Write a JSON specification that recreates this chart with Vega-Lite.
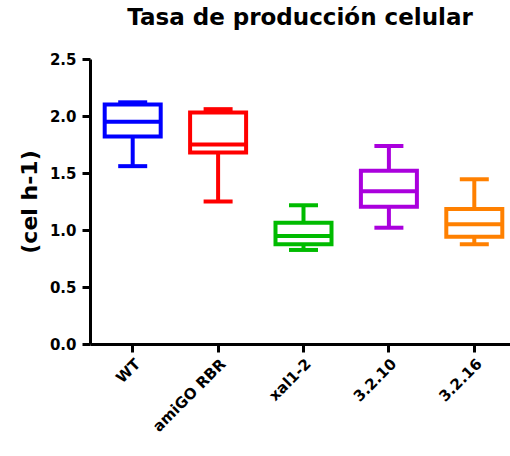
{
  "$schema": "https://vega.github.io/schema/vega-lite/v6.json",
  "autosize": {"type": "none"},
  "padding": {"left": 90, "top": 59, "right": 0, "bottom": 112},
  "width": 420,
  "height": 285,
  "background": "white",
  "view": {"stroke": null},
  "title": {
    "text": "Tasa de producción celular",
    "font": "DejaVu Sans",
    "fontSize": 23,
    "fontWeight": "bold",
    "color": "black",
    "anchor": "middle",
    "frame": "group",
    "offset": 22
  },
  "data": {
    "values": [
      {"group": "WT", "min": 1.56, "q1": 1.82, "median": 1.95, "q3": 2.1, "max": 2.12},
      {"group": "amiGO RBR", "min": 1.25, "q1": 1.68, "median": 1.75, "q3": 2.03, "max": 2.06},
      {"group": "xal1-2", "min": 0.825, "q1": 0.875, "median": 0.947, "q3": 1.064, "max": 1.217},
      {"group": "3.2.10", "min": 1.02, "q1": 1.204, "median": 1.34, "q3": 1.52, "max": 1.737},
      {"group": "3.2.16", "min": 0.875, "q1": 0.94, "median": 1.05, "q3": 1.184, "max": 1.445}
    ]
  },
  "encoding": {
    "x": {
      "field": "group",
      "type": "nominal",
      "sort": null,
      "scale": {"range": [0, 427], "paddingInner": 0, "paddingOuter": 0},
      "axis": {
        "title": null,
        "labelAngle": -45,
        "labelFont": "DejaVu Sans",
        "labelFontSize": 15,
        "labelFontWeight": "bold",
        "labelColor": "black",
        "labelPadding": 4,
        "domainColor": "black",
        "domainWidth": 3,
        "tickColor": "black",
        "tickWidth": 3,
        "tickSize": 8
      }
    },
    "color": {
      "field": "group",
      "type": "nominal",
      "sort": null,
      "scale": {
        "domain": ["WT", "amiGO RBR", "xal1-2", "3.2.10", "3.2.16"],
        "range": ["#0000FF", "#FF0000", "#00BB00", "#AA00DD", "#FF8000"]
      },
      "legend": null
    }
  },
  "layer": [
    {
      "mark": {"type": "rule", "strokeWidth": 4},
      "encoding": {
        "y": {
          "field": "min",
          "type": "quantitative",
          "scale": {"domain": [0, 2.5], "nice": false},
          "axis": {
            "title": "(cel h-1)",
            "titleFont": "DejaVu Sans",
            "titleFontSize": 22,
            "titleFontWeight": "bold",
            "titleColor": "black",
            "titlePadding": 8,
            "values": [0, 0.5, 1, 1.5, 2, 2.5],
            "format": ".1f",
            "grid": false,
            "labelFont": "DejaVu Sans",
            "labelFontSize": 15,
            "labelFontWeight": "bold",
            "labelColor": "black",
            "labelPadding": 6,
            "domainColor": "black",
            "domainWidth": 3,
            "tickColor": "black",
            "tickWidth": 3,
            "tickSize": 8
          }
        },
        "y2": {"field": "q1"}
      }
    },
    {
      "mark": {"type": "rule", "strokeWidth": 4},
      "encoding": {
        "y": {"field": "q3", "type": "quantitative"},
        "y2": {"field": "max"}
      }
    },
    {
      "mark": {"type": "bar", "width": 56, "fill": "white", "strokeWidth": 4},
      "encoding": {
        "y": {"field": "q1", "type": "quantitative"},
        "y2": {"field": "q3"},
        "stroke": {
          "field": "group",
          "type": "nominal",
          "scale": {
            "domain": ["WT", "amiGO RBR", "xal1-2", "3.2.10", "3.2.16"],
            "range": ["#0000FF", "#FF0000", "#00BB00", "#AA00DD", "#FF8000"]
          },
          "legend": null
        }
      }
    },
    {
      "mark": {"type": "tick", "size": 56, "thickness": 4, "opacity": 1},
      "encoding": {"y": {"field": "median", "type": "quantitative"}}
    },
    {
      "mark": {"type": "tick", "size": 29, "thickness": 4, "opacity": 1},
      "encoding": {"y": {"field": "min", "type": "quantitative"}}
    },
    {
      "mark": {"type": "tick", "size": 29, "thickness": 4, "opacity": 1},
      "encoding": {"y": {"field": "max", "type": "quantitative"}}
    }
  ]
}
